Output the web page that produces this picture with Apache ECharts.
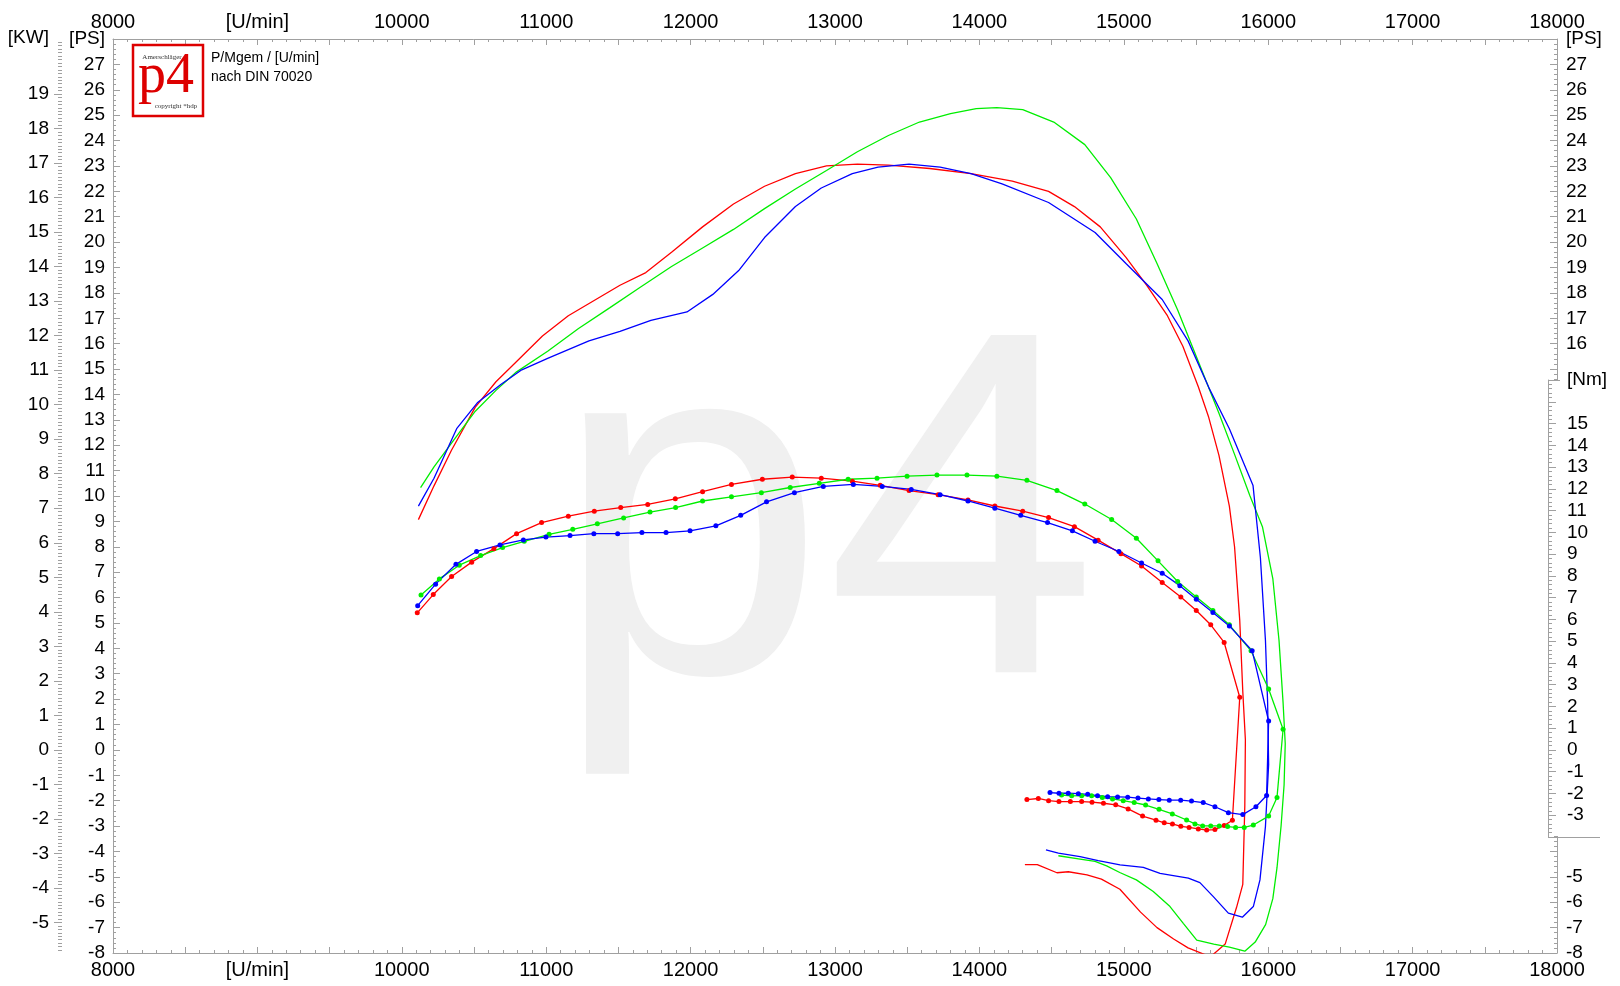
<!DOCTYPE html>
<html><head><meta charset="utf-8">
<script src="https://cdn.jsdelivr.net/npm/echarts@6/dist/echarts.min.js"></script>
<style>html,body{margin:0;padding:0;background:#fff}#c{width:1620px;height:986px}</style>
</head><body><div id="c"></div>
<script>
// ---- data: [rpm, PS] for power, [rpm, Nm] for torque ----
const redPower = [[10115,9.07],[10223,10.4],[10344,11.8],[10509,13.5],[10652,14.5],[10795,15.3],[10974,16.3],[11153,17.1],[11332,17.7],[11511,18.3],[11690,18.8],[11868,19.6],[12083,20.6],[12297,21.5],[12512,22.2],[12726,22.7],[12941,23.0],[13155,23.07],[13370,23.03],[13656,22.9],[13942,22.7],[14228,22.4],[14479,22.0],[14658,21.4],[14837,20.6],[15015,19.4],[15159,18.3],[15302,17.1],[15409,15.9],[15516,14.3],[15588,13.1],[15659,11.6],[15731,9.6],[15767,8.0],[15803,5.1],[15824,2.3],[15842,0.4],[15838,-2.2],[15824,-5.3],[15781,-6.2],[15702,-7.65],[15600,-8.15],[15445,-7.8],[15345,-7.45],[15230,-7.0],[15116,-6.39],[14973,-5.49],[14845,-5.09],[14745,-4.92],[14616,-4.8],[14537,-4.84],[14401,-4.52],[14315,-4.52]];
const greenPower = [[10130,10.33],[10223,11.15],[10366,12.25],[10509,13.34],[10652,14.16],[10795,14.89],[11010,15.7],[11224,16.6],[11439,17.41],[11654,18.23],[11868,19.04],[12083,19.77],[12297,20.5],[12512,21.32],[12726,22.09],[12941,22.82],[13155,23.56],[13370,24.2],[13585,24.73],[13800,25.06],[13978,25.26],[14121,25.3],[14300,25.22],[14515,24.73],[14730,23.84],[14909,22.54],[15087,20.91],[15230,19.16],[15373,17.33],[15516,15.3],[15659,13.26],[15767,11.64],[15874,10.0],[15960,8.79],[16032,6.75],[16075,4.31],[16103,1.87],[16118,0.24],[16110,-1.38],[16089,-3.01],[16061,-4.64],[16032,-5.86],[15982,-6.88],[15910,-7.57],[15838,-7.93],[15731,-7.77],[15623,-7.65],[15505,-7.49],[15412,-6.83],[15320,-6.17],[15204,-5.58],[15087,-5.12],[14972,-4.83],[14881,-4.57],[14801,-4.39],[14697,-4.30],[14547,-4.17]];
const bluePower = [[10115,9.6],[10223,10.7],[10380,12.65],[10523,13.67],[10688,14.4],[10831,14.97],[11010,15.42],[11296,16.11],[11511,16.48],[11725,16.92],[11975,17.25],[12154,17.94],[12333,18.88],[12512,20.18],[12726,21.4],[12905,22.13],[13120,22.7],[13298,22.95],[13513,23.07],[13728,22.95],[13942,22.7],[14157,22.29],[14479,21.56],[14801,20.38],[15015,19.16],[15266,17.74],[15445,16.11],[15588,14.28],[15731,12.65],[15895,10.41],[15946,7.57],[15981,4.31],[15996,1.87],[16003,-0.57],[15981,-3.01],[15943,-5.12],[15897,-6.17],[15821,-6.59],[15724,-6.43],[15620,-5.78],[15527,-5.23],[15447,-5.05],[15343,-4.95],[15251,-4.86],[15135,-4.63],[14974,-4.53],[14823,-4.36],[14697,-4.20],[14547,-4.07],[14461,-3.94]];

const redTorque = [[10107,6.30],[10218,7.14],[10345,7.97],[10484,8.63],[10638,9.25],[10795,9.94],[10968,10.45],[11153,10.74],[11333,10.97],[11516,11.14],[11703,11.28],[11894,11.54],[12083,11.87],[12283,12.2],[12497,12.44],[12704,12.54],[12905,12.49],[13120,12.35],[13313,12.16],[13513,11.92],[13714,11.73],[13921,11.49],[14107,11.21],[14300,10.97],[14479,10.68],[14658,10.26],[14822,9.64],[14980,9.02],[15123,8.45],[15266,7.69],[15395,7.03],[15502,6.41],[15602,5.75],[15695,4.94],[15803,2.42],[15752,-3.23],[15695,-3.47],[15631,-3.66],[15574,-3.68],[15516,-3.63],[15452,-3.56],[15395,-3.51],[15337,-3.40],[15280,-3.35],[15223,-3.23],[15130,-3.04],[15030,-2.71],[14944,-2.52],[14859,-2.45],[14780,-2.40],[14708,-2.37],[14630,-2.37],[14551,-2.37],[14479,-2.33],[14408,-2.23],[14329,-2.28]];
const greenTorque = [[10133,7.12],[10260,7.86],[10398,8.49],[10546,8.93],[10698,9.30],[10848,9.59],[11020,9.91],[11184,10.14],[11354,10.39],[11536,10.66],[11719,10.93],[11896,11.14],[12083,11.44],[12283,11.63],[12490,11.82],[12690,12.06],[12891,12.25],[13091,12.44],[13291,12.49],[13499,12.58],[13706,12.63],[13914,12.63],[14121,12.58],[14329,12.39],[14537,11.92],[14730,11.30],[14916,10.59],[15087,9.73],[15237,8.69],[15373,7.74],[15502,7.03],[15617,6.41],[15731,5.75],[15881,4.56],[16003,2.80],[16103,0.95],[16061,-2.18],[16003,-3.04],[15897,-3.45],[15834,-3.56],[15774,-3.56],[15719,-3.52],[15661,-3.49],[15602,-3.49],[15546,-3.49],[15493,-3.40],[15435,-3.22],[15336,-2.94],[15244,-2.73],[15151,-2.53],[15072,-2.42],[14996,-2.33],[14922,-2.25],[14851,-2.19],[14777,-2.10],[14708,-2.10],[14639,-2.11],[14569,-2.07]];
const blueTorque = [[10110,6.63],[10234,7.62],[10375,8.53],[10518,9.12],[10680,9.42],[10842,9.65],[10998,9.78],[11165,9.85],[11330,9.94],[11495,9.94],[11663,9.99],[11830,9.99],[11996,10.07],[12175,10.30],[12347,10.78],[12526,11.40],[12719,11.82],[12919,12.11],[13127,12.20],[13327,12.11],[13528,11.97],[13728,11.73],[13921,11.44],[14107,11.11],[14286,10.78],[14472,10.45],[14644,10.07],[14801,9.59],[14966,9.12],[15123,8.59],[15266,8.12],[15388,7.55],[15502,6.93],[15617,6.32],[15731,5.70],[15889,4.56],[16003,1.33],[15989,-2.09],[15915,-2.61],[15824,-2.97],[15724,-2.88],[15631,-2.61],[15550,-2.42],[15469,-2.35],[15394,-2.31],[15315,-2.31],[15243,-2.28],[15170,-2.25],[15098,-2.21],[15027,-2.17],[14957,-2.16],[14888,-2.15],[14818,-2.10],[14750,-2.04],[14685,-2.01],[14615,-1.99],[14551,-1.99],[14489,-1.96]];

// axis ranges / tick labels
const rpmMin = 8000, rpmMax = 18000;
const psMin = -8, psMax = 28;
const nmMin = -4, nmMax = 17;
const kwPerPs = 0.73549875;
const kwLabels = [-5,-4,-3,-2,-1,0,1,2,3,4,5,6,7,8,9,10,11,12,13,14,15,16,17,18,19];

const F = "Arial, 'Liberation Sans', sans-serif";
const AX = '#a0a0a0';
const kwMin = psMin * kwPerPs, kwMax = psMax * kwPerPs;
const kwMinor = [];
for (let v = Math.ceil(kwMin * 10); v <= Math.floor(kwMax * 10); v++) kwMinor.push(v / 10);

function xAx(pos, gridIndex, show) {
  return {
    type: 'value', gridIndex, position: pos, show, min: rpmMin, max: rpmMax, interval: 500,
    axisLine: { show: true, onZero: false, lineStyle: { color: AX, width: 1 } },
    axisTick: { show: true, inside: true, length: 6, lineStyle: { color: AX } },
    minorTick: { show: true, splitNumber: 5, length: 3, lineStyle: { color: AX } },
    splitLine: { show: false }, minorSplitLine: { show: false },
    axisLabel: { color: '#000', fontSize: 20, fontFamily: F, margin: 7,
      formatter: v => (v % 1000) ? '' : (v === 9000 ? '[U/min]' : String(v)) }
  };
}

const chart = echarts.init(document.getElementById('c'), null, { renderer: 'canvas' });
chart.setOption({
  animation: false,
  backgroundColor: '#fff',
  grid: [
    { left: 113, right: 63, top: 39, bottom: 33 },
    { left: 113, right: 63, top: 380, bottom: 149 }
  ],
  xAxis: [xAx('bottom', 0, true), xAx('top', 0, true), xAx('bottom', 1, false)],
  yAxis: [
    { type: 'value', gridIndex: 0, position: 'left', min: psMin, max: psMax, interval: 1,
      axisLine: { show: true, onZero: false, lineStyle: { color: AX } },
      axisTick: { inside: true, length: 7, lineStyle: { color: AX } },
      minorTick: { show: true, splitNumber: 5, length: 3, lineStyle: { color: AX } },
      splitLine: { show: false },
      axisLabel: { color: '#000', fontSize: 19, fontFamily: F, margin: 8,
        formatter: v => v === psMax ? '[PS]' : String(v) } },
    { type: 'value', gridIndex: 0, position: 'right', min: psMin, max: psMax, interval: 1,
      axisLine: { show: true, onZero: false, lineStyle: { color: AX } },
      axisTick: { inside: true, length: 7, lineStyle: { color: AX } },
      minorTick: { show: true, splitNumber: 5, length: 3, lineStyle: { color: AX } },
      splitLine: { show: false },
      axisLabel: { color: '#000', fontSize: 19, fontFamily: F, margin: 9,
        formatter: v => v === psMax ? '[PS]' : ((v >= 16 || v <= -5) ? String(v) : '') } },
    { type: 'value', gridIndex: 0, position: 'left', offset: 51, min: kwMin, max: kwMax,
      axisLine: { show: false },
      axisTick: { show: true, length: 8, customValues: kwLabels, lineStyle: { color: AX } },
      splitLine: { show: false },
      axisLabel: { color: '#000', fontSize: 19, fontFamily: F, margin: 13, customValues: kwLabels,
        formatter: v => String(Math.round(v)) } },
    { type: 'value', gridIndex: 0, position: 'left', offset: 51, min: kwMin, max: kwMax,
      axisLine: { show: false },
      axisTick: { show: true, length: 4, customValues: kwMinor, lineStyle: { color: AX } },
      splitLine: { show: false },
      axisLabel: { show: false } },
    { type: 'value', gridIndex: 1, position: 'right', offset: -9, min: nmMin, max: nmMax, interval: 1, z: 10,
      axisLine: { show: true, onZero: false, lineStyle: { color: AX } },
      axisTick: { inside: false, length: 8, lineStyle: { color: AX } },
      minorTick: { show: true, splitNumber: 5, length: 4, lineStyle: { color: AX } },
      splitLine: { show: false },
      axisLabel: { color: '#000', fontSize: 19, fontFamily: F, margin: 19,
        formatter: v => v === nmMax ? '[Nm]' : ((v === 16 || v === nmMin) ? '' : String(v)) } }
  ],
  graphic: [
    { type: 'text', z: 0, silent: true, style: { x: 553, y: 537, text: 'p4', font: "490px Arial, 'Liberation Sans', sans-serif", fill: '#f0f0f0', textVerticalAlign: 'middle' } },
    { type: 'rect', z: 5, silent: true, shape: { x: 1549, y: 381, width: 60, height: 455 }, style: { fill: '#fff' } },
    { type: 'line', z: 11, silent: true, shape: { x1: 1548, y1: 380.5, x2: 1560, y2: 380.5 }, style: { stroke: AX, lineWidth: 1 } },
    { type: 'line', z: 11, silent: true, shape: { x1: 1548, y1: 837.5, x2: 1600, y2: 837.5 }, style: { stroke: AX, lineWidth: 1 } },
    { type: 'text', z: 11, style: { x: 49, y: 38, text: '[KW]', font: "19px Arial, 'Liberation Sans', sans-serif", fill: '#000', textAlign: 'right', textVerticalAlign: 'middle' } },
    { type: 'rect', z: 11, shape: { x: 133, y: 45, width: 70, height: 71 }, style: { fill: '#fff', stroke: '#dd0000', lineWidth: 2.5 } },
    { type: 'text', z: 12, style: { x: 162, y: 57, text: 'Amerschläger', font: "7px 'Liberation Serif', serif", fill: '#333', textAlign: 'center', textVerticalAlign: 'middle' } },
    { type: 'text', z: 12, style: { x: 166, y: 77, text: 'p4', font: "56px 'Liberation Serif', 'DejaVu Serif', serif", fill: '#dd0000', textAlign: 'center', textVerticalAlign: 'middle' } },
    { type: 'text', z: 12, style: { x: 176, y: 106, text: 'copyright *hdp', font: "7px 'Liberation Serif', serif", fill: '#333', textAlign: 'center', textVerticalAlign: 'middle' } },
    { type: 'text', z: 12, style: { x: 211, y: 58, text: 'P/Mgem / [U/min]', font: "14px Arial, 'Liberation Sans', sans-serif", fill: '#000', textVerticalAlign: 'middle' } },
    { type: 'text', z: 12, style: { x: 211, y: 77, text: 'nach DIN 70020', font: "14px Arial, 'Liberation Sans', sans-serif", fill: '#000', textVerticalAlign: 'middle' } }
  ],
  series: [
    { name: 'P rot', type: 'line', xAxisIndex: 0, yAxisIndex: 0, data: redPower, showSymbol: false, lineStyle: { color: '#ff0000', width: 1.3 }, itemStyle: { color: '#ff0000' } },
    { name: 'P grün', type: 'line', xAxisIndex: 0, yAxisIndex: 0, data: greenPower, showSymbol: false, lineStyle: { color: '#00ee00', width: 1.3 }, itemStyle: { color: '#00ee00' } },
    { name: 'P blau', type: 'line', xAxisIndex: 0, yAxisIndex: 0, data: bluePower, showSymbol: false, lineStyle: { color: '#0000ff', width: 1.3 }, itemStyle: { color: '#0000ff' } },
    { name: 'M rot', type: 'line', xAxisIndex: 2, yAxisIndex: 4, data: redTorque, symbol: 'circle', symbolSize: 5, lineStyle: { color: '#ff0000', width: 1.3 }, itemStyle: { color: '#ff0000' } },
    { name: 'M grün', type: 'line', xAxisIndex: 2, yAxisIndex: 4, data: greenTorque, symbol: 'circle', symbolSize: 5, lineStyle: { color: '#00ee00', width: 1.3 }, itemStyle: { color: '#00ee00' } },
    { name: 'M blau', type: 'line', xAxisIndex: 2, yAxisIndex: 4, data: blueTorque, symbol: 'circle', symbolSize: 5, lineStyle: { color: '#0000ff', width: 1.3 }, itemStyle: { color: '#0000ff' } }
  ]
});
</script></body></html>
